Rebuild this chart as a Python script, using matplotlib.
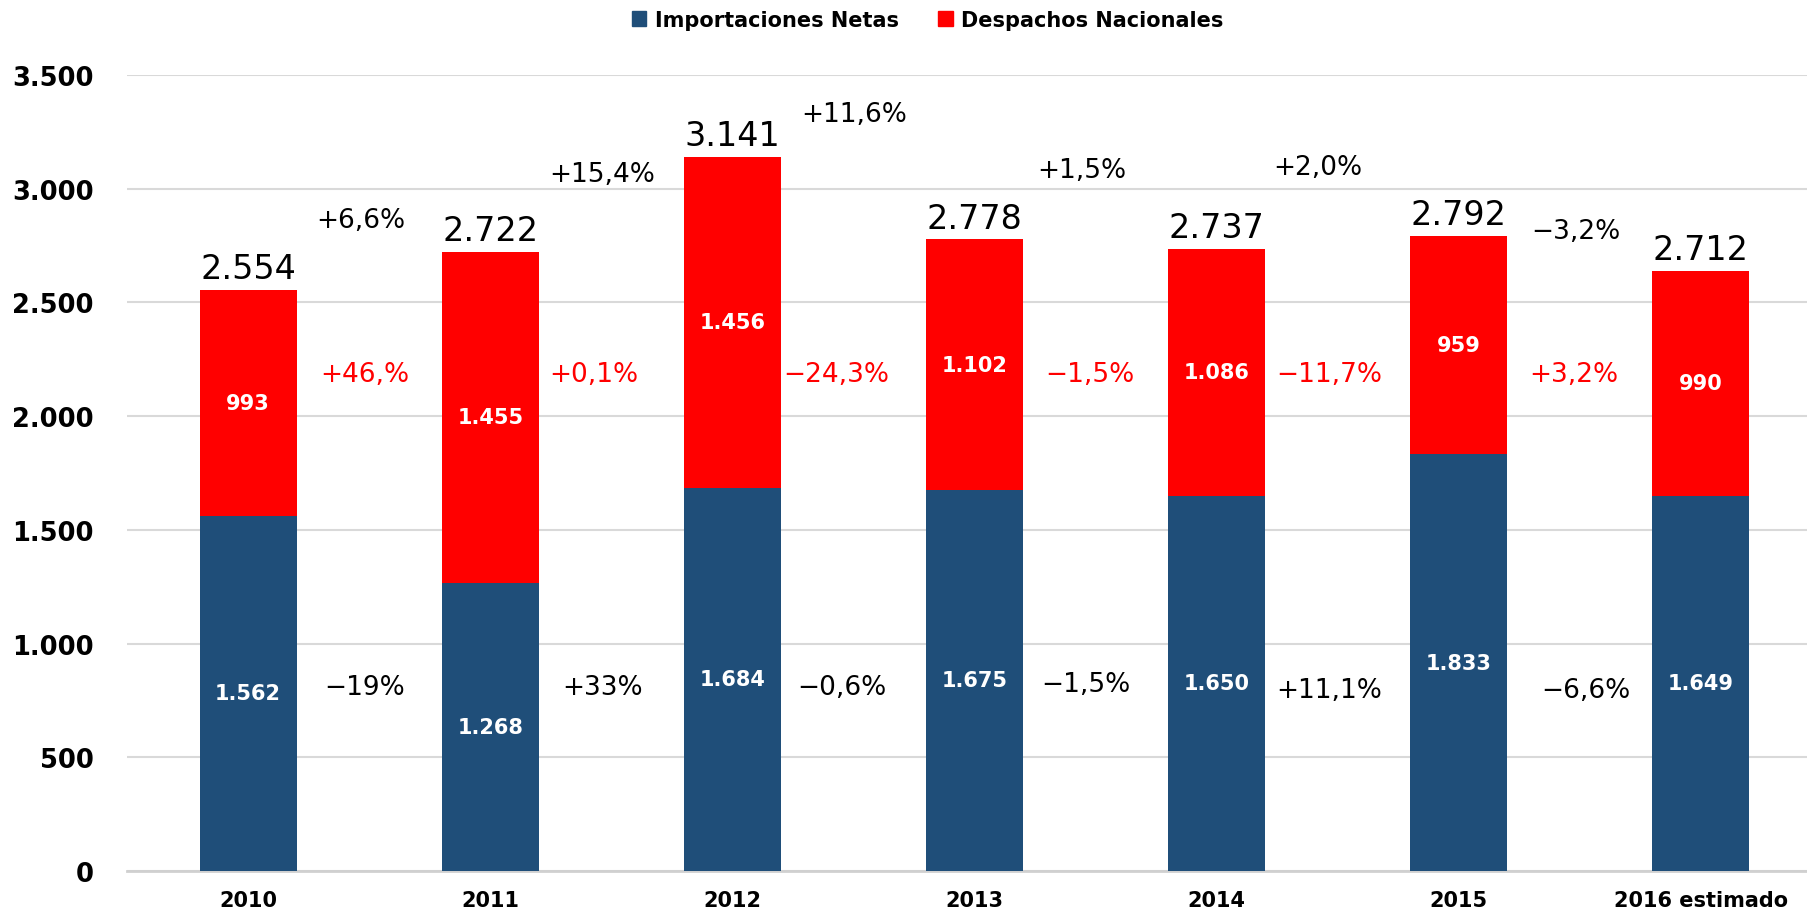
import matplotlib
matplotlib.use("Agg")
import matplotlib.pyplot as plt
from matplotlib.patches import Patch
import numpy as np

# ---- data ----
categories = ["2010", "2011", "2012", "2013", "2014", "2015", "2016 estimado"]
importaciones = [1562, 1268, 1684, 1675, 1650, 1833, 1649]
despachos = [993, 1455, 1456, 1102, 1086, 959, 990]
total_labels = ["2.554", "2.722", "3.141", "2.778", "2.737", "2.792", "2.712"]
imp_labels = ["1.562", "1.268", "1.684", "1.675", "1.650", "1.833", "1.649"]
desp_labels = ["993", "1.455", "1.456", "1.102", "1.086", "959", "990"]

# year-on-year changes (between consecutive bars)
total_change = ["+6,6%", "+15,4%", "+11,6%", "+1,5%", "+2,0%", "\u22123,2%"]
desp_change = ["+46,%", "+0,1%", "\u221224,3%", "\u22121,5%", "\u221211,7%", "+3,2%"]
imp_change = ["\u221219%", "+33%", "\u22120,6%", "\u22121,5%", "+11,1%", "\u22126,6%"]

# ---- layout of the change labels (positions, not data) ----
total_change_x = [0.467, 1.462, 2.505, 3.443, 4.419, 5.486]
total_change_y = [2861, 3064, 3328, 3084, 3094, 2815]
desp_change_x = [0.481, 1.429, 2.429, 3.476, 4.467, 5.476]
desp_change_y = [2186] * 6
imp_change_x = [0.481, 1.462, 2.452, 3.462, 4.467, 5.524]
imp_change_y = [807, 807, 807, 822, 796, 796]

BLUE = "#1F4E79"
RED = "#FF0000"

fig = plt.figure(figsize=(18.08, 9.12), dpi=100)
ax = fig.add_axes([0.0703, 0.0439, 0.9297, 0.9167 - 0.0439])

x = np.arange(len(categories))
w = 0.4
ax.bar(x, importaciones, w, color=BLUE, zorder=3)
ax.bar(x, despachos, w, bottom=importaciones, color=RED, zorder=3)

ax.set_xlim(-0.5, 6.443)
ax.set_ylim(0, 3500)
ax.set_yticks(np.arange(0, 3501, 500))
ax.set_yticklabels(["0", "500", "1.000", "1.500", "2.000", "2.500", "3.000", "3.500"])
ax.grid(axis="y", color="#D9D9D9", linewidth=1.5, zorder=0)
ax.set_axisbelow(True)
for s in ["top", "right", "left"]:
    ax.spines[s].set_visible(False)
ax.spines["bottom"].set_color("#D0D0D0")
ax.spines["bottom"].set_linewidth(2)
ax.tick_params(axis="y", length=0, pad=24, labelsize=18.5)
ax.tick_params(axis="x", length=0, pad=14, labelsize=15)
ax.set_xticks(x)
ax.set_xticklabels(categories)
for lbl in ax.get_xticklabels() + ax.get_yticklabels():
    lbl.set_fontweight("bold")

# inner labels
for i in range(len(categories)):
    ax.text(x[i], importaciones[i] / 2, imp_labels[i], ha="center", va="center",
            color="white", fontsize=15, fontweight="bold", zorder=4)
    ax.text(x[i], importaciones[i] + despachos[i] / 2, desp_labels[i], ha="center",
            va="center", color="white", fontsize=15, fontweight="bold", zorder=4)
    top = importaciones[i] + despachos[i]
    ax.annotate(total_labels[i], (x[i], top), xytext=(0, 8.5), textcoords="offset points",
                ha="center", va="baseline", fontsize=24, color="black", zorder=4)

for i in range(len(total_change)):
    ax.text(total_change_x[i], total_change_y[i], total_change[i], ha="center",
            va="center", fontsize=19, color="black")
    ax.text(desp_change_x[i], desp_change_y[i], desp_change[i], ha="center",
            va="center", fontsize=19, color=RED)
    ax.text(imp_change_x[i], imp_change_y[i], imp_change[i], ha="center",
            va="center", fontsize=19, color="black")

handles = [Patch(color=BLUE, label="Importaciones Netas"),
           Patch(color=RED, label="Despachos Nacionales")]
fig.legend(handles=handles, loc="center", bbox_to_anchor=(0.513, 0.977), ncol=2,
           frameon=False, prop={"size": 15, "weight": "bold"}, handlelength=0.7,
           handleheight=0.7, handletextpad=0.4, columnspacing=1.9)

fig.savefig("out.png", dpi=100)
